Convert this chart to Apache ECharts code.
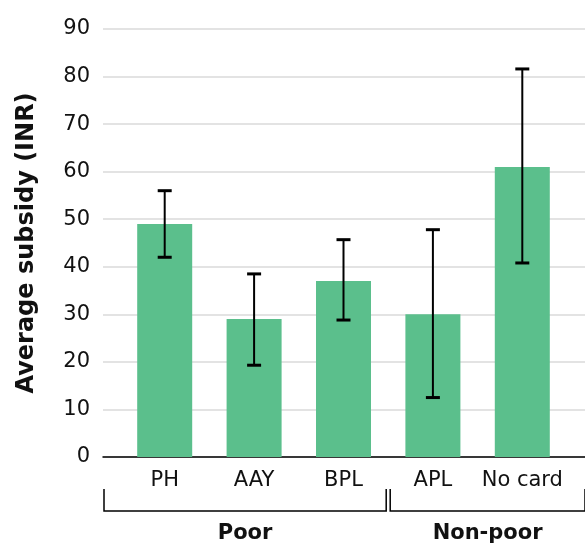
<!DOCTYPE html>
<html>
<head>
<meta charset="utf-8">
<script src="https://cdn.jsdelivr.net/npm/echarts@6/dist/echarts.min.js"></script>
<style>
  html, body { margin: 0; padding: 0; background: #fff; }
  #chart { width: 585px; height: 545px; }
</style>
</head>
<body>
<div id="chart"></div>
<script>
// data
const categories = ['PH', 'AAY', 'BPL', 'APL', 'No card']
const subsidy = [49, 29, 37, 30, 61]
const errLow = [42, 19.3, 28.8, 12.5, 40.8]
const errHigh = [56, 38.5, 45.7, 47.8, 81.6]
const groups = [
  { name: 'Poor', from: 0, to: 2 },
  { name: 'Non-poor', from: 3, to: 4 },
]

const FONT = 'DejaVu Sans'
const GREEN = '#5bbf8c'

const myChart = echarts.init(document.getElementById('chart'))

const errData = categories.map((c, i) => [i, errLow[i], errHigh[i]])

const option = {
  animation: false,
  textStyle: { fontFamily: FONT },
  grid: [
    // grid 0: gridlines, axis line, y labels (full width)
    { left: 103, right: 0, top: 29, bottom: 88 },
    // grid 1: bars and category labels
    { left: 120, right: 18, top: 29, bottom: 88 },
  ],
  xAxis: [
    {
      gridIndex: 0,
      type: 'category',
      data: [''],
      axisLine: { show: true, lineStyle: { color: '#000', width: 1.5 } },
      axisTick: { show: false },
      axisLabel: { show: false },
    },
    {
      gridIndex: 1,
      type: 'category',
      data: categories,
      axisLine: { show: false },
      axisTick: { show: false },
      axisLabel: { interval: 0, color: '#111', fontSize: 21, margin: 13, fontFamily: FONT },
    },
  ],
  yAxis: [
    {
      gridIndex: 0,
      type: 'value',
      min: 0,
      max: 90,
      interval: 10,
      name: 'Average subsidy (INR)',
      nameLocation: 'middle',
      nameGap: 64,
      nameTextStyle: { fontSize: 24, fontWeight: 'bold', color: '#111', fontFamily: FONT },
      axisLine: { show: false },
      axisTick: { show: false },
      axisLabel: { color: '#111', fontSize: 21, margin: 13, fontFamily: FONT },
      splitLine: { lineStyle: { color: '#dadada', width: 1.5 } },
    },
    {
      gridIndex: 1,
      type: 'value',
      min: 0,
      max: 90,
      interval: 10,
      show: false,
    },
  ],
  series: [
    {
      type: 'bar',
      xAxisIndex: 1,
      yAxisIndex: 1,
      data: subsidy,
      barWidth: 55,
      itemStyle: { color: GREEN },
      z: 2,
    },
    {
      type: 'custom',
      xAxisIndex: 1,
      yAxisIndex: 1,
      data: errData,
      z: 3,
      renderItem(params, api) {
        const i = api.value(0)
        const lo = api.coord([i, api.value(1)])
        const hi = api.coord([i, api.value(2)])
        const half = 7
        const style = { stroke: '#000', lineWidth: 2 }
        return {
          type: 'group',
          children: [
            { type: 'line', shape: { x1: lo[0], y1: lo[1], x2: hi[0], y2: hi[1] }, style },
            { type: 'line', shape: { x1: hi[0] - half, y1: hi[1], x2: hi[0] + half, y2: hi[1] }, style: { stroke: '#000', lineWidth: 3 } },
            { type: 'line', shape: { x1: lo[0] - half, y1: lo[1], x2: lo[0] + half, y2: lo[1] }, style: { stroke: '#000', lineWidth: 3 } },
          ],
        }
      },
    },
  ],
}

myChart.setOption(option)

// group brackets below the category labels
const bandW = myChart.convertToPixel({ xAxisIndex: 1 }, 1) - myChart.convertToPixel({ xAxisIndex: 1 }, 0)
const plotLeft = 103
const plotRight = 585
const topY = 489
const botY = 511
const brackets = []
groups.forEach((g, gi) => {
  let x1 = myChart.convertToPixel({ xAxisIndex: 1 }, g.from) - bandW / 2
  let x2 = myChart.convertToPixel({ xAxisIndex: 1 }, g.to) + bandW / 2
  if (gi === 0) x1 = plotLeft
  if (gi === groups.length - 1) x2 = plotRight + 2
  x1 += gi === 0 ? 1 : 2
  x2 -= 2
  brackets.push({
    type: 'polyline',
    shape: { points: [[x1, topY], [x1, botY], [x2, botY], [x2, topY]] },
    style: { stroke: '#000', lineWidth: 1.5, fill: null },
  })
  brackets.push({
    type: 'text',
    x: (x1 + x2) / 2,
    y: 534,
    style: {
      text: g.name,
      font: `bold 21px ${FONT}`,
      fill: '#111',
      align: 'center',
      verticalAlign: 'middle',
    },
  })
})
myChart.setOption({ graphic: brackets })
</script>
</body>
</html>
